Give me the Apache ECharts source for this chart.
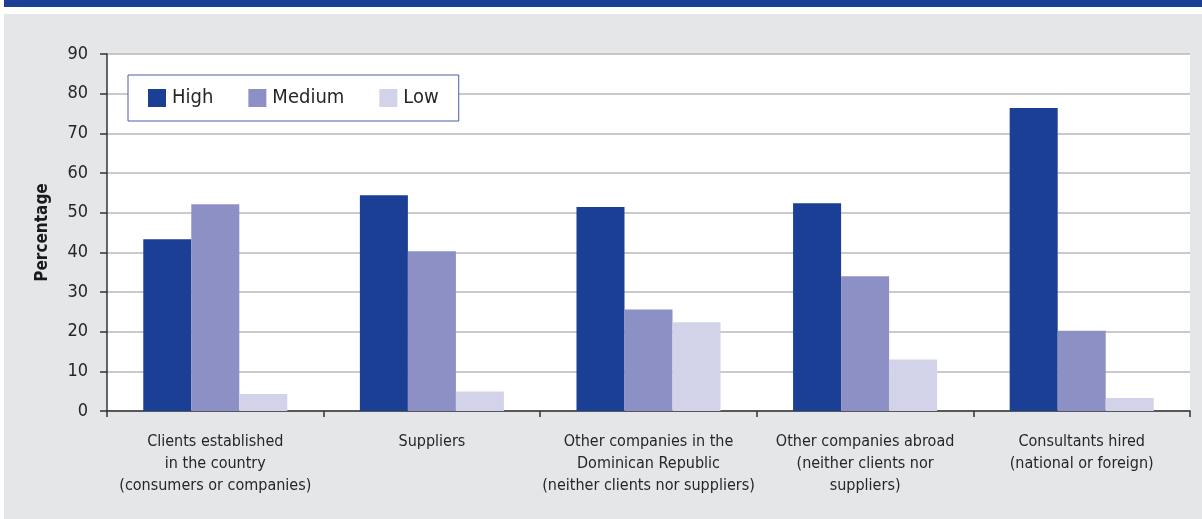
<!DOCTYPE html>
<html>
<head>
<meta charset="utf-8">
<script src="https://cdn.jsdelivr.net/npm/echarts@6/dist/echarts.min.js"></script>
<style>
  html, body { margin: 0; padding: 0; background: #ffffff; }
  #chart { width: 1202px; height: 519px; }
</style>
</head>
<body>
<div id="chart"></div>
<script>
// Sources of information for innovation, by degree of importance
const categories = [
  'Clients established\nin the country\n(consumers or companies)',
  'Suppliers',
  'Other companies in the\nDominican Republic\n(neither clients nor suppliers)',
  'Other companies abroad\n(neither clients nor\nsuppliers)',
  'Consultants hired\n(national or foreign)'
];
const seriesNames = ['High', 'Medium', 'Low'];
const highValues = [43.3, 54.4, 51.4, 52.4, 76.4];
const mediumValues = [52.1, 40.3, 25.6, 34.0, 20.2];
const lowValues = [4.3, 4.9, 22.4, 13.0, 3.3];
const yTicks = { min: 0, max: 90, interval: 10 };

const colors = ['#1b3f94', '#8c90c4', '#d2d3e8'];
const font = "'Liberation Sans Narrow', 'DejaVu Sans Condensed', 'Liberation Sans', sans-serif";
const textColor = '#262626';

const chart = echarts.init(document.getElementById('chart'), null, { renderer: 'canvas' });

const values = [highValues, mediumValues, lowValues];

chart.setOption({
  animation: false,
  backgroundColor: '#ffffff',
  textStyle: { fontFamily: font },
  graphic: [
    { type: 'rect', z: -10, shape: { x: 4, y: 0, width: 1198, height: 7 }, style: { fill: '#1b3f94' } },
    { type: 'rect', z: -10, shape: { x: 4, y: 14, width: 1198, height: 505 }, style: { fill: '#e5e6e8' } }
  ],
  legend: {
    left: 128,
    top: 75,
    orient: 'horizontal',
    backgroundColor: '#ffffff',
    borderColor: '#4a5ea8',
    borderWidth: 1,
    padding: [13, 20, 13, 20],
    itemWidth: 18,
    itemHeight: 18,
    itemGap: 35,
    icon: 'rect',
    textStyle: { fontFamily: font, fontSize: 20, color: textColor, padding: [0, 0, 0, 1] },
    data: seriesNames
  },
  grid: {
    left: 107, right: 12, top: 54, bottom: 108,
    show: true, backgroundColor: '#ffffff', borderWidth: 0,
    containLabel: false
  },
  xAxis: {
    type: 'category',
    data: categories,
    axisLine: { lineStyle: { color: '#333333', width: 1.5 } },
    axisTick: { show: true, alignWithLabel: false, length: 6, lineStyle: { color: '#333333', width: 1.5 } },
    axisLabel: {
      interval: 0, margin: 20, color: textColor,
      fontFamily: font, fontSize: 16, lineHeight: 22, align: 'center'
    }
  },
  yAxis: {
    type: 'value',
    min: yTicks.min, max: yTicks.max, interval: yTicks.interval,
    name: 'Percentage',
    nameLocation: 'middle',
    nameGap: 56,
    nameRotate: 90,
    nameTextStyle: { fontFamily: font, fontSize: 17, fontWeight: 'bold', color: '#1a1a1a' },
    axisLine: { show: true, lineStyle: { color: '#333333', width: 1.5 } },
    axisTick: { show: true, length: 7, lineStyle: { color: '#333333', width: 1.5 } },
    axisLabel: { margin: 19, color: textColor, fontFamily: font, fontSize: 18 },
    splitLine: { show: true, lineStyle: { color: '#b9b9b9', width: 1.5 } }
  },
  series: seriesNames.map((name, i) => ({
    name: name,
    type: 'bar',
    data: values[i],
    barGap: '0%',
    barCategoryGap: '33.5%',
    itemStyle: { color: colors[i] }
  }))
});
</script>
</body>
</html>
